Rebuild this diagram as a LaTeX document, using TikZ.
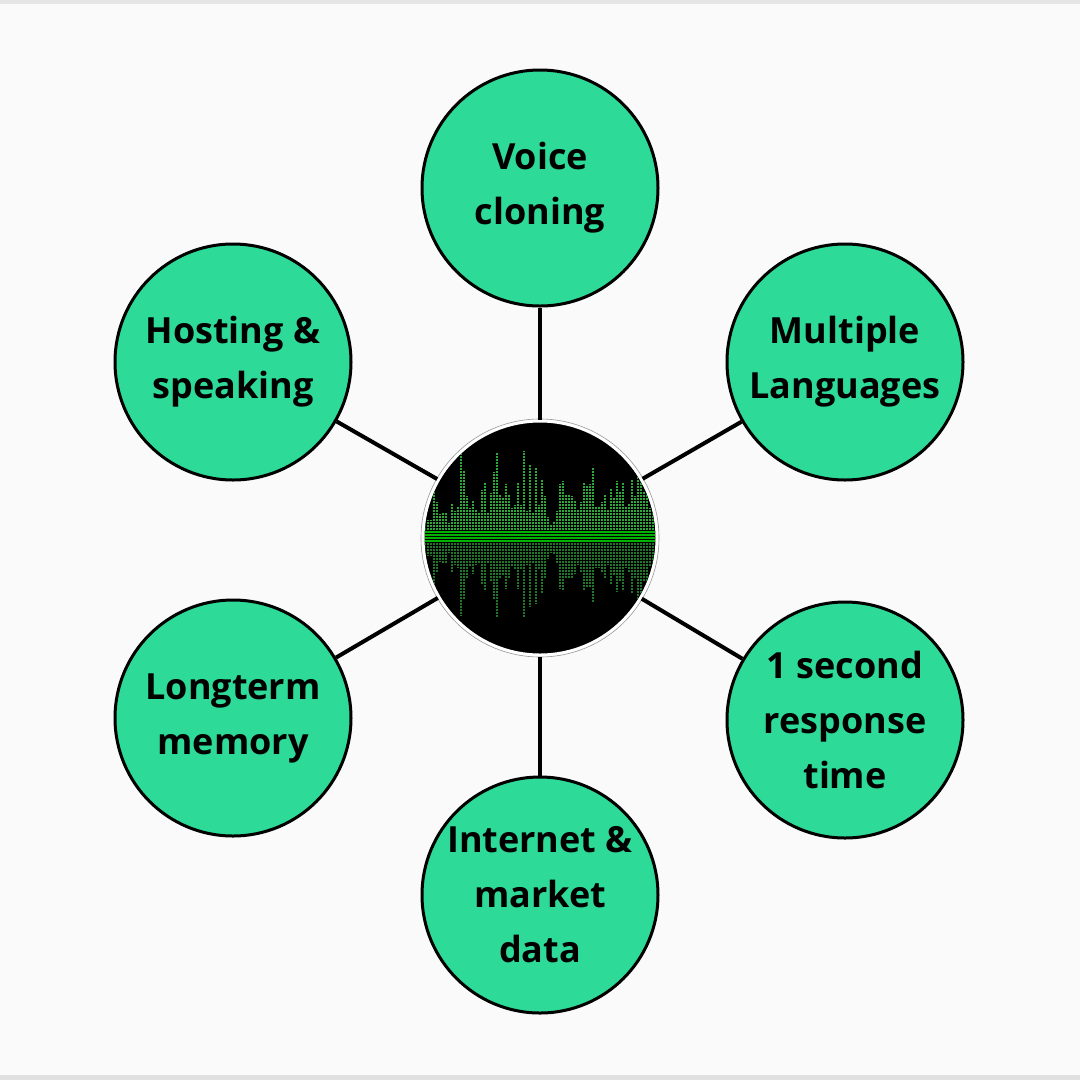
\documentclass[tikz,border=0pt]{standalone}
\usepackage{fontspec}
\setmainfont{Open Sans}
\begin{document}
\begin{tikzpicture}[x=1pt,y=-1pt,
  feat/.style={circle,draw=black,line width=3pt,fill=featgreen,minimum size=236pt,inner sep=0pt,align=center,font=\fontsize{36}{55}\selectfont\bfseries},
  link/.style={line width=4pt,black}]
\definecolor{featgreen}{HTML}{2EDA98}
\definecolor{bg}{HTML}{FAFAFA}
\definecolor{wave}{HTML}{2FA83A}
\fill[bg] (0,0) rectangle (1080,1080);
\fill[black!10] (0,0) rectangle (1080,4);
\fill[black!12] (0,1075) rectangle (1080,1080);
\node[feat] (v) at (540,188) {Voice\\cloning};
\node[feat] (m) at (845,362) {Multiple\\Languages};
\node[feat] (s) at (845,720) {1 second\\response\\time};
\node[feat] (i) at (540,895) {Internet \&\\market\\data};
\node[feat] (l) at (233,718) {Longterm\\memory};
\node[feat] (h) at (233,362) {Hosting \&\\speaking};
\node[circle,fill=black,draw=white,line width=3pt,minimum size=234pt,inner sep=0pt] (c) at (540,538) {};
\draw[black!40,line width=0.6pt] (c.center) circle (119);
\foreach \n in {v,m,s,i,l,h} \draw[link] (c) -- (\n);
\begin{scope}
\clip (540,538) circle (115);
\pgfmathsetseed{7}
\foreach \k in {0,...,76}{
  \pgfmathsetmacro{\xx}{424+\k*3}
  \pgfmathsetmacro{\env}{ (\k<10 || (\k>40 && \k<45)) ? 10 : 25 }
  \pgfmathsetmacro{\hh}{\env+abs(rand)*45*(abs(rand)>0.7?1.8:0.8)}
  \fill[wave] (\xx,538-\hh) rectangle ++(2.2,\hh);
  \fill[wave!70!black] (\xx,540) rectangle ++(2.2,\hh*0.9);
}
\fill[green!70!black] (420,530) rectangle (660,542);
\foreach \yy in {440,443,...,640} \draw[black,line width=0.6pt] (420,\yy) -- (660,\yy);
\end{scope}
\end{tikzpicture}
\end{document}
